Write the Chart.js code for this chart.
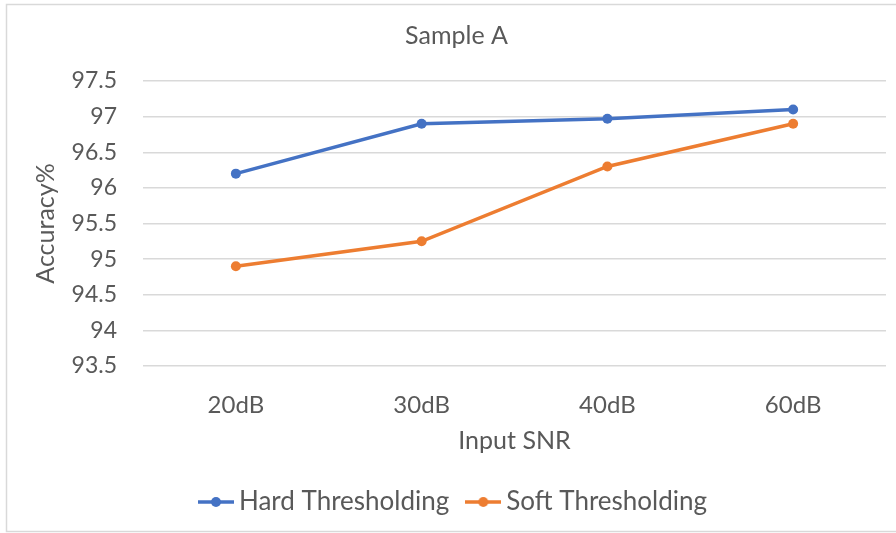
<!DOCTYPE html>
<html>
<head>
<meta charset="utf-8">
<script src="https://cdn.jsdelivr.net/npm/chart.js@4/dist/chart.umd.min.js"></script>
<style>
  html, body { margin: 0; padding: 0; background: #fff; }
  #wrap { width: 896px; height: 533px; }
</style>
</head>
<body>
<div id="wrap"><canvas id="myChart" width="896" height="533"></canvas></div>
<script>
const snrLabels = ['20dB', '30dB', '40dB', '60dB'];
const hardValues = [96.2, 96.9, 96.97, 97.1];
const softValues = [94.9, 95.25, 96.3, 96.9];

const BLUE = '#4472C4';
const ORANGE = '#ED7D31';
const TEXT = '#595959';
const FONT = 'Lato, "Open Sans", sans-serif';

// legend marker: short line with a dot, like the spreadsheet one
function marker(color) {
  const c = document.createElement('canvas');
  c.width = 36; c.height = 12;
  const g = c.getContext('2d');
  g.strokeStyle = color;
  g.lineWidth = 3.5;
  g.beginPath(); g.moveTo(0, 6); g.lineTo(36, 6); g.stroke();
  g.fillStyle = color;
  g.beginPath(); g.arc(18, 6, 5, 0, Math.PI * 2); g.fill();
  return c;
}

const framePlugin = {
  id: 'frame',
  beforeDraw(chart) {
    const c = chart.ctx;
    c.save();
    c.fillStyle = '#fff';
    c.fillRect(0, 0, chart.width, chart.height);
    c.strokeStyle = '#d9d9d9';
    c.lineWidth = 1.5;
    c.strokeRect(6.5, 4.5, 900, 527);
    c.restore();
  }
};

let ctx = document.querySelector('#myChart');

const chart = new Chart(ctx, {
  type: 'line',
  data: {
    labels: snrLabels,
    datasets: [{
      label: 'Hard Thresholding',
      data: hardValues,
      borderColor: BLUE,
      backgroundColor: BLUE,
      borderWidth: 3.5,
      pointRadius: 5,
      pointBorderWidth: 0,
      pointStyle: 'circle',
      tension: 0
    }, {
      label: 'Soft Thresholding',
      data: softValues,
      borderColor: ORANGE,
      backgroundColor: ORANGE,
      borderWidth: 3.5,
      pointRadius: 5,
      pointBorderWidth: 0,
      pointStyle: 'circle',
      tension: 0
    }]
  },
  options: {
    responsive: false,
    animation: false,
    layout: { padding: { left: 27, right: 10, top: 0, bottom: 8 } },
    plugins: {
      title: {
        display: true,
        text: 'Sample A',
        color: TEXT,
        font: { family: FONT, size: 25, weight: 'normal' },
        padding: { top: 21, bottom: 30 }
      },
      legend: {
        position: 'bottom',
        labels: {
          color: TEXT,
          font: { family: FONT, size: 26 },
          usePointStyle: true,
          pointStyleWidth: 20,
          padding: 24,
          generateLabels(chart) {
            return chart.data.datasets.map((ds, i) => ({
              text: ds.label,
              fontColor: TEXT,
              pointStyle: marker(ds.borderColor),
              lineWidth: 0,
              strokeStyle: ds.borderColor,
              fillStyle: ds.borderColor,
              datasetIndex: i,
              hidden: false
            }));
          }
        }
      },
      tooltip: { enabled: false }
    },
    scales: {
      x: {
        offset: true,
        grid: { display: false },
        border: { display: false },
        ticks: { color: TEXT, font: { family: FONT, size: 24 }, padding: 17 },
        title: {
          display: true,
          text: 'Input SNR',
          color: TEXT,
          font: { family: FONT, size: 25 },
          padding: { top: 0, bottom: 9 }
        },
        afterFit(scale) { scale.height = 99; }
      },
      y: {
        min: 93.5,
        max: 97.5,
        grid: { color: '#d9d9d9', lineWidth: 1.5, drawTicks: false },
        border: { display: false },
        ticks: {
          stepSize: 0.5,
          color: TEXT,
          font: { family: FONT, size: 23 },
          padding: 26,
          callback: v => String(v)
        },
        title: {
          display: true,
          text: 'Accuracy%',
          color: TEXT,
          font: { family: FONT, size: 25 },
          padding: { top: 4, bottom: 0 }
        },
        afterFit(scale) { scale.width = 116; }
      }
    }
  },
  plugins: [framePlugin]
});
</script>
</body>
</html>
